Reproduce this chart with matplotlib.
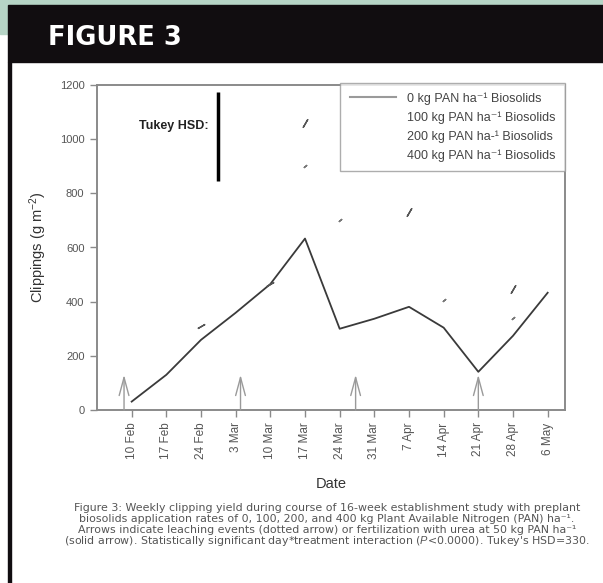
import matplotlib
matplotlib.use('Agg')
import matplotlib.pyplot as plt
import numpy as np
from matplotlib.patches import Rectangle
from matplotlib.lines import Line2D

plt.rcParams['font.family'] = ['Liberation Sans', 'DejaVu Sans']
plt.rcParams['mathtext.fontset'] = 'custom'
plt.rcParams['mathtext.rm'] = 'Liberation Sans'
plt.rcParams['mathtext.it'] = 'Liberation Sans:italic'

# Datas semanais e rendimento (g m-2)
datas = ['10 Feb', '17 Feb', '24 Feb', '3 Mar', '10 Mar', '17 Mar', '24 Mar',
         '31 Mar', '7 Apr', '14 Apr', '21 Apr', '28 Apr', '6 May']
kg0 = [31, 130, 259, 359, 465, 633, 300, 337, 381, 304, 141, 274, 433]
nan = np.nan
# restos visiveis das outras series
kg100 = [nan, nan, 310, nan, 465, nan, nan, nan, nan, nan, nan, nan, nan]
kg200 = [nan, nan, nan, nan, nan, 900, 700, nan, nan, 405, nan, 340, nan]
kg400 = [nan, nan, nan, nan, nan, 1060, nan, nan, 730, nan, nan, 445, nan]

# setas (posicao em semanas a partir de 10 Feb) e Tukey HSD
setas_x = [-0.22, 3.14, 6.46, 10.0]
seta_altura = 130
hsd_x = 2.5
hsd_base = 845
hsd = 330

rotulos = ['0 kg PAN ha\u207b\u00b9 Biosolids',
           '100 kg PAN ha\u207b\u00b9 Biosolids',
           '200 kg PAN ha-\u00b9 Biosolids',
           '400 kg PAN ha\u207b\u00b9 Biosolids']

legenda_fig = [
    'Figure 3: Weekly clipping yield during course of 16-week establishment study with preplant',
    'biosolids application rates of 0, 100, 200, and 400 kg Plant Available Nitrogen (PAN) ha\u207b\u00b9.',
    'Arrows indicate leaching events (dotted arrow) or fertilization with urea at 50 kg PAN ha\u207b\u00b9',
    '(solid arrow). Statistically significant day*treatment interaction ($P$<0.0000). Tukey\'s HSD=330.',
]

W, H = 603, 583
fig = plt.figure(figsize=(W / 100, H / 100), dpi=100)
fig.patch.set_facecolor('white')

# moldura da pagina
verde = '#b6d4c6'
fig.patches.append(Rectangle((0, 1 - 5 / H), 1, 5 / H, transform=fig.transFigure, color=verde, zorder=0))
fig.patches.append(Rectangle((0, 1 - 34 / H), 9 / W, 34 / H, transform=fig.transFigure, color=verde, zorder=0))
fig.patches.append(Rectangle((8 / W, 1 - 62 / H), 1, 57 / H, transform=fig.transFigure, color='#110d10', zorder=1))
fig.patches.append(Rectangle((8 / W, 0), 2.5 / W, 1 - 62 / H, transform=fig.transFigure, color='#110d10', zorder=1))
fig.text(48 / W, 1 - 45 / H, 'FIGURE 3', color='white', fontsize=18.5, fontweight='heavy',
         family='DejaVu Sans', va='baseline', ha='left')

ax = fig.add_axes([97 / W, 1 - 410 / H, (565 - 97) / W, (410 - 85) / H])
ax.set_facecolor('none')
x = np.arange(len(datas))

cinza = '#8a8a8a'
ax.plot(x, kg0, color='#3a3a3a', lw=1.3, label=rotulos[0])
ax.plot(x, kg100, linestyle='none', marker=(2, 2, -60), ms=6, mew=1, color='#555555', label=rotulos[1])
ax.plot(x, kg200, linestyle='none', marker=(2, 2, -50), ms=3, mew=1, color='#777777', label=rotulos[2])
ax.plot(x, kg400, linestyle='none', marker=(2, 2, -30), ms=7, mew=1, color='#555555', label=rotulos[3])

for sx in setas_x:
    ax.annotate('', xy=(sx, seta_altura), xytext=(sx, 0),
                arrowprops=dict(arrowstyle='->, head_length=1.3, head_width=0.35',
                                color='#9a9a9a', lw=1, shrinkA=0, shrinkB=0))

ax.plot([hsd_x, hsd_x], [hsd_base, hsd_base + hsd], color='black', lw=2.5, solid_capstyle='butt')
ax.text(hsd_x - 0.28, 1048, 'Tukey HSD:', ha='right', va='center', fontsize=9,
        fontweight='bold', color='#222222')

ax.set_xlim(-1, 12.5)
ax.set_ylim(0, 1200)
ax.set_yticks(range(0, 1201, 200))
ax.set_xticks(x)
ax.set_xticklabels(datas, rotation=90, fontsize=8.5, color='#555555')
ax.tick_params(axis='y', labelsize=8, labelcolor='#555555')
ax.tick_params(direction='out', length=5, width=1, color=cinza, pad=4)
for s in ax.spines.values():
    s.set_color(cinza)
    s.set_linewidth(1.4)

ax.set_xlabel('Date', fontsize=10.5, color='#333333', labelpad=13)
ax.set_ylabel('Clippings (g m$^{-2}$)', fontsize=10.5, color='#333333', labelpad=8)

vazio = [Line2D([], [], color='none') for _ in range(3)]
amostra = Line2D([], [], color='#9a9a9a', lw=1.5)
leg = ax.legend([amostra] + vazio, rotulos, loc='upper right', bbox_to_anchor=(1.0, 1.007),
                fontsize=9, frameon=True, fancybox=False, borderaxespad=0,
                handlelength=3.7, handletextpad=0.9, borderpad=0.75, labelspacing=0.52)
leg.get_frame().set_edgecolor('#999999')
leg.get_frame().set_linewidth(1)
for t in leg.get_texts():
    t.set_color('#444444')

for i, linha in enumerate(legenda_fig):
    fig.text(327 / W, 1 - (508 + 11 * i) / H, linha, ha='center', va='center',
             fontsize=7.9, color='#555555', family=['DejaVu Sans'])

fig.savefig('out.png', dpi=100)
